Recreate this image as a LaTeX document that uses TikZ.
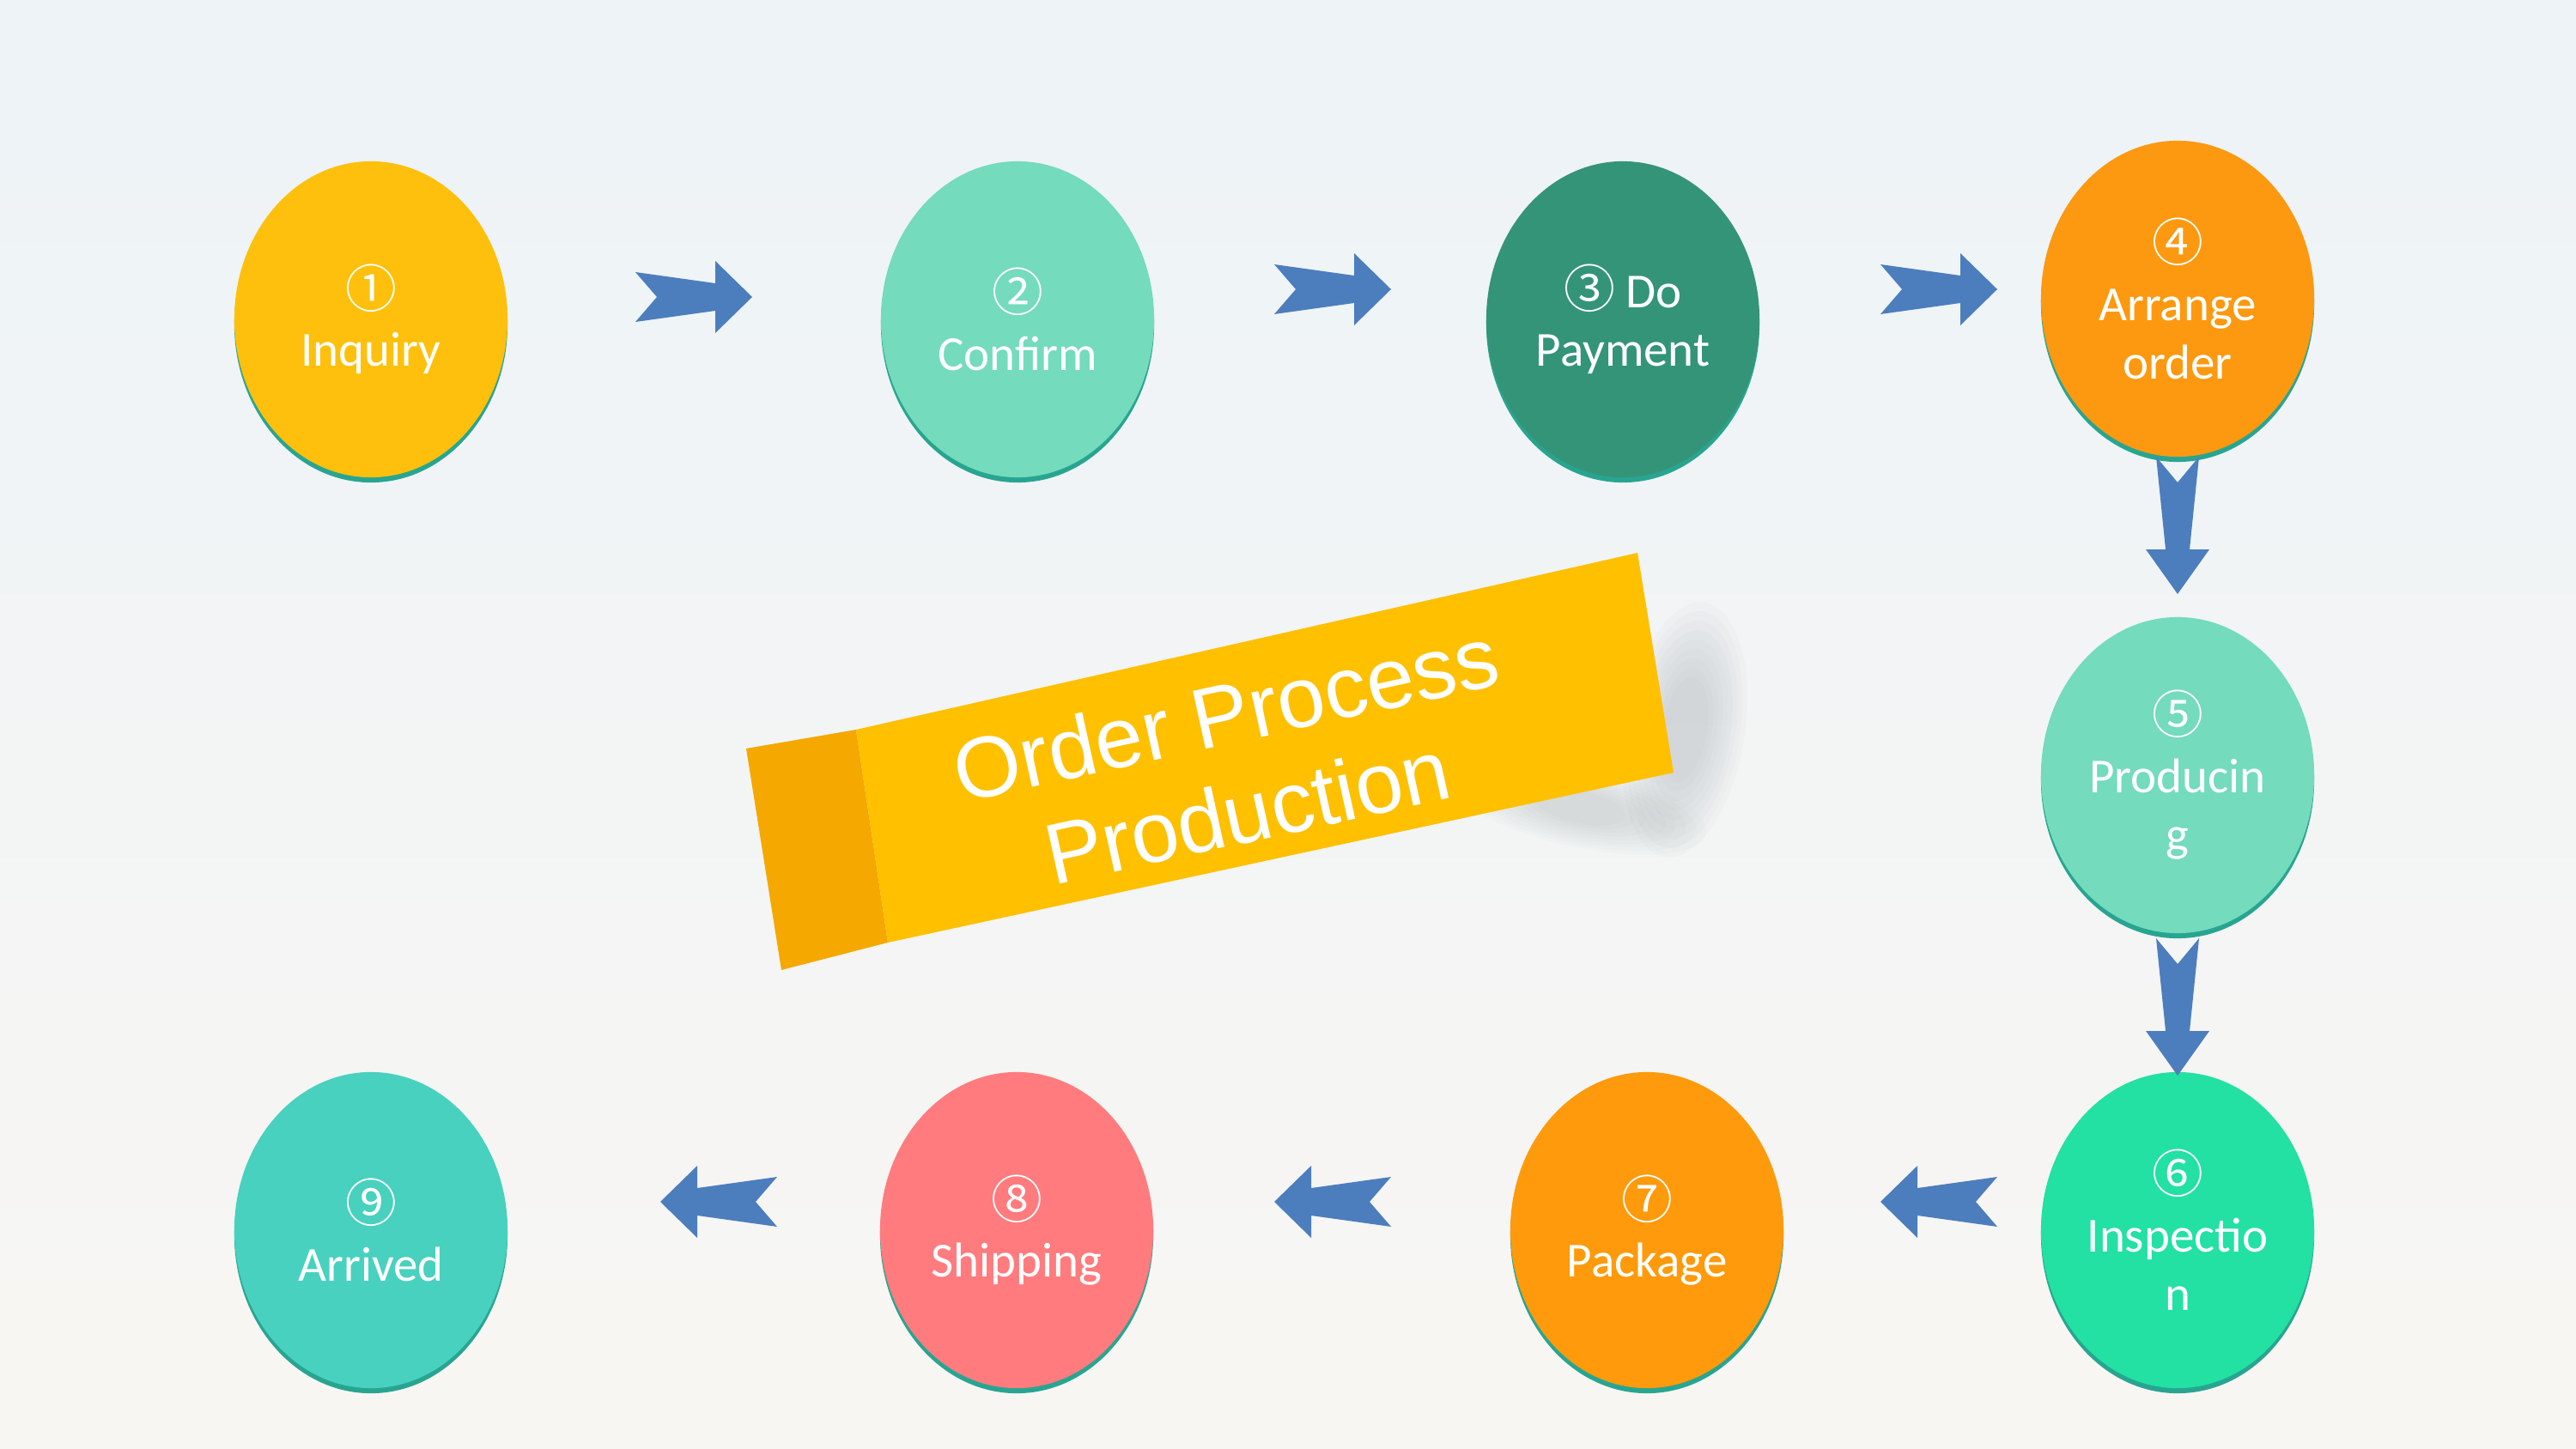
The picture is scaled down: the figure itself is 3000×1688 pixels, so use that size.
\documentclass[tikz,border=0pt]{standalone}
\usepackage{fontspec}
\setmainfont{Carlito}
\newfontfamily\numfont{Noto Sans CJK SC}
\newfontfamily\bannerfont{Liberation Sans}
\usetikzlibrary{shapes.geometric,shadows,calc}

\definecolor{bgtop}{HTML}{EDF3F7}
\definecolor{bgbot}{HTML}{F8F6F3}
\definecolor{c1}{HTML}{FEC00C}
\definecolor{c2}{HTML}{74DBBD}
\definecolor{c3}{HTML}{349478}
\definecolor{c4}{HTML}{FC9910}
\definecolor{c5}{HTML}{74DBBD}
\definecolor{c6}{HTML}{23E0A3}
\definecolor{c7}{HTML}{FE9A0C}
\definecolor{c8}{HTML}{FF7B7E}
\definecolor{c9}{HTML}{48D1BE}
\definecolor{rim}{HTML}{28A591}
\definecolor{arrowblue}{HTML}{4C7EBE}
\definecolor{bannermain}{HTML}{FFC000}
\definecolor{bannerdark}{HTML}{F4A800}
\definecolor{shadowgray}{HTML}{8E969C}

\newcommand\numc[1]{{\numfont\fontsize{17pt}{19.5pt}\selectfont #1}}
\newcommand\stepfont{\fontsize{16.2pt}{19.5pt}\selectfont\lineskiplimit=-10pt\relax}
% center, angle, half length, head length, notch, tail half width, shaft half width, head half width
\newcommand\blockarrow[8]{\fill[arrowblue,shift={(#1)},rotate=#2]
  (-#3,-#6) -- (-#3+#5,0) -- (-#3,#6) -- (#3-#4,#7) -- (#3-#4,#8) -- (#3,0)
  -- (#3-#4,-#8) -- (#3-#4,-#7) -- cycle;}

\tikzset{
  stepnode/.style={ellipse, minimum width=3.18cm, minimum height=3.68cm, inner sep=0pt,
    text=white, align=center, font=\stepfont,
    general shadow={fill=rim, shadow yshift=-0.06cm}},
  bannertext/.style={text=white, align=center, rotate=12.4,
    font=\bannerfont\fontsize{28.5pt}{33.2pt}\selectfont}
}

\begin{document}
\begin{tikzpicture}[x=0.01cm,y=-0.01cm]
  \useasboundingbox (0,0) rectangle (3000,1688);
  \shade[top color=bgtop, bottom color=bgbot] (0,0) rectangle (3000,1688);

  % banner shadow
  \foreach \s in {1.0,0.9,0.8,0.7,0.6,0.5,0.4,0.3,0.2} {
    \fill[shadowgray, opacity=0.035] (1962,850) ellipse[x radius=55*\s+15, y radius=110*\s+40, rotate=-9];
    \fill[shadowgray, opacity=0.03] (1840,940) ellipse[x radius=120*\s+30, y radius=35*\s+12, rotate=-12];
  }

  % banner
  \fill[bannerdark] (869,872) -- (997,850) -- (1034,1098) -- (910,1130) -- cycle;
  \fill[bannermain] (997,850) -- (1907,644) -- (1949,900) -- (1034,1098) -- cycle;
  \node[bannertext] (title) at (1440,888) {Order Process\\Production};

  % steps
  \node[stepnode, fill=c1] (n1) at (432,372)  {\numc{①}\\Inquiry};
  \node[stepnode, fill=c2] (n2) at (1185,372) {\numc{②}\\Confirm};
  \node[stepnode, fill=c3] (n3) at (1890,372) {\numc{③} Do\\Payment};
  \node[stepnode, fill=c4] (n4) at (2536,348) {\numc{④}\\Arrange\\order};
  \node[stepnode, fill=c5] (n5) at (2536,903) {\numc{⑤}\\Producin\\g};
  \node[stepnode, fill=c6] (n6) at (2536,1433) {\numc{⑥}\\Inspectio\\n};
  \node[stepnode, fill=c7] (n7) at (1918,1433) {\numc{⑦}\\Package};
  \node[stepnode, fill=c8] (n8) at (1184,1433) {\numc{⑧}\\Shipping};
  \node[stepnode, fill=c9] (n9) at (432,1433)  {\numc{⑨}\\Arrived};

  % connector anchors
  \coordinate (a12) at (808,346);
  \coordinate (a23) at (1552,337);
  \coordinate (a34) at (2258,337);
  \coordinate (a45) at (2536,612);
  \coordinate (a56) at (2536,1173);
  \coordinate (a67) at (2258,1400);
  \coordinate (a78) at (1552,1400);
  \coordinate (a89) at (837,1400);

  \blockarrow{a12}{0}{68}{43}{25}{29}{16}{42}
  \blockarrow{a23}{0}{68}{43}{25}{29}{16}{42}
  \blockarrow{a34}{0}{68}{43}{25}{29}{16}{42}
  \blockarrow{a45}{-90}{80}{52}{30}{25}{14}{37}
  \blockarrow{a56}{-90}{80}{52}{30}{25}{14}{37}
  \blockarrow{a67}{180}{68}{43}{25}{29}{16}{42}
  \blockarrow{a78}{180}{68}{43}{25}{29}{16}{42}
  \blockarrow{a89}{180}{68}{43}{25}{29}{16}{42}
\end{tikzpicture}
\end{document}
